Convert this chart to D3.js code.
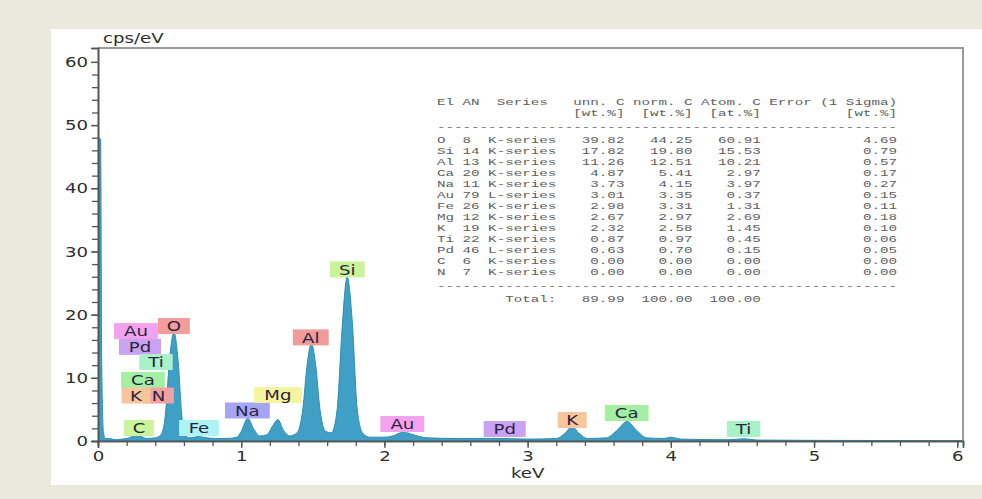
<!DOCTYPE html>
<html>
<head>
<meta charset="utf-8">
<script src="https://cdn.jsdelivr.net/npm/d3@7"></script>
<style>
  html, body { margin: 0; padding: 0; background: #ebe8de; }
  svg { display: block; }
  .tbl text { font-family: "Liberation Mono", "DejaVu Sans Mono", monospace; font-size: 9.7px; fill: #5e5e5e; white-space: pre; }
</style>
</head>
<body>
<script>
// EDS spectrum, cps/eV vs keV

// spectrum points [keV, cps/eV]
var specKeV = [0, 0.018, 0.026, 0.038, 0.05, 0.08, 0.12, 0.17, 0.22, 0.255, 0.28, 0.305, 0.34, 0.4, 0.44, 0.47, 0.5, 0.53, 0.56, 0.585, 0.61, 0.64, 0.7, 0.76, 0.82, 0.9, 0.97, 1.0, 1.045, 1.09, 1.13, 1.18, 1.22, 1.256, 1.295, 1.34, 1.39, 1.43, 1.46, 1.49, 1.52, 1.55, 1.59, 1.63, 1.67, 1.705, 1.74, 1.775, 1.81, 1.85, 1.9, 2.0, 2.06, 2.13, 2.2, 2.3, 2.5, 2.8, 3.0, 3.2, 3.26, 3.31, 3.36, 3.42, 3.55, 3.62, 3.695, 3.76, 3.83, 3.95, 4.0, 4.07, 4.4, 4.51, 4.6, 5.0, 6.04];
var specCps = [48, 47.8, 12, 1.5, 0.4, 0.4, 0.2, 0.3, 0.5, 0.9, 1.1, 0.7, 0.4, 0.5, 1.0, 4, 13, 17.2, 12.5, 4, 1.0, 0.5, 0.7, 0.5, 0.4, 0.4, 0.6, 1.5, 3.6, 1.8, 0.8, 1.0, 2.4, 3.4, 1.7, 0.8, 1.3, 5, 12, 15.4, 12, 5, 1.5, 1.3, 5, 18, 26, 19, 5, 1.2, 0.6, 0.6, 0.8, 1.4, 1.0, 0.5, 0.4, 0.4, 0.3, 0.4, 1.2, 2.3, 1.2, 0.4, 0.5, 1.6, 3.1, 1.7, 0.5, 0.4, 0.6, 0.3, 0.2, 0.35, 0.15, 0.1, 0.05];

// element labels: name, keV and cps of the label centre
var labelEls = ["Au", "O", "Pd", "Ti", "Ca", "N", "K", "C", "Fe", "Na", "Mg", "Al", "Si", "Au", "Pd", "K", "Ca", "Ti"];
var labelKeV = [0.265, 0.530, 0.293, 0.405, 0.314, 0.422, 0.265, 0.286, 0.705, 1.043, 1.256, 1.486, 1.741, 2.125, 2.84, 3.311, 3.692, 4.508];
var labelCps = [17.4, 18.2, 14.9, 12.5, 9.66, 7.2, 7.2, 2.06, 2.06, 4.83, 7.28, 16.4, 27.15, 2.69, 1.9, 3.32, 4.43, 1.9];

// quantification table
var tEl = ["O", "Si", "Al", "Ca", "Na", "Au", "Fe", "Mg", "K", "Ti", "Pd", "C", "N"];
var tAN = [8, 14, 13, 20, 11, 79, 26, 12, 19, 22, 46, 6, 7];
var tSeries = ["K-series", "K-series", "K-series", "K-series", "K-series", "L-series", "K-series", "K-series", "K-series", "K-series", "L-series", "K-series", "K-series"];
var tUnn = [39.82, 17.82, 11.26, 4.87, 3.73, 3.01, 2.98, 2.67, 2.32, 0.87, 0.63, 0.00, 0.00];
var tNorm = [44.25, 19.80, 12.51, 5.41, 4.15, 3.35, 3.31, 2.97, 2.58, 0.97, 0.70, 0.00, 0.00];
var tAtom = [60.91, 15.53, 10.21, 2.97, 3.97, 0.37, 1.31, 2.69, 1.45, 0.45, 0.15, 0.00, 0.00];
var tErr = [4.69, 0.79, 0.57, 0.17, 0.27, 0.15, 0.11, 0.18, 0.10, 0.06, 0.05, 0.00, 0.00];
var tTotal = [89.99, 100.00, 100.00];

var xTicks = [0, 1, 2, 3, 4, 5, 6];
var yTicks = [0, 10, 20, 30, 40, 50, 60];

var labelColor = {
  Au: "#f3a3ee", O: "#f39c9c", Pd: "#c9a2f3", Ti: "#a8f2c9", Ca: "#a4f0a2",
  K: "#f8c59d", N: "#f2a0a0", C: "#cbf59b", Fe: "#acf4f4", Na: "#a5a5f4",
  Mg: "#f6f59f", Al: "#f29b9b", Si: "#caf49b"
};

var W = 982, H = 499;
var plot = {left: 98, right: 963, top: 48, bottom: 441};
var STRETCH = 1.25;

var x = d3.scaleLinear().domain([0, 6.04]).range([plot.left, plot.right]);
var y = d3.scaleLinear().domain([0, 62.2]).range([plot.bottom, plot.top]);

var svg = d3.select("body").append("svg")
    .attr("width", W)
    .attr("height", H);

// white panel
svg.append("rect")
    .attr("x", 51).attr("y", 29)
    .attr("width", W - 51).attr("height", 485 - 29)
    .attr("fill", "#fff");

// widen text like the source picture
function stretch(sel, k) {
  sel.each(function () {
    var len = this.getComputedTextLength();
    d3.select(this).attr("textLength", len * k).attr("lengthAdjust", "spacingAndGlyphs");
  });
}

// spectrum
svg.append("clipPath").attr("id", "clip")
  .append("rect")
    .attr("x", plot.left).attr("y", plot.top)
    .attr("width", plot.right - plot.left).attr("height", plot.bottom - plot.top);

var pts = specKeV.map(function (k, i) { return [k, specCps[i]]; });

var area = d3.area()
    .x(function (d) { return x(d[0]); })
    .y0(y(0))
    .y1(function (d) { return y(d[1]); })
    .curve(d3.curveMonotoneX);

svg.append("path")
    .datum(pts)
    .attr("clip-path", "url(#clip)")
    .attr("d", area)
    .attr("fill", "#3f9fc4")
    .attr("stroke", "#2e8db3")
    .attr("stroke-width", 1);

// frame: top and right in light grey
svg.append("path")
    .attr("d", "M" + plot.left + "," + plot.top + "H" + plot.right + "V" + plot.bottom)
    .attr("fill", "none")
    .attr("stroke", "#9a9a9a")
    .attr("stroke-width", 2);

// axes
var axisFont = "'DejaVu Sans', Verdana, sans-serif";

var yMinor = svg.append("g")
    .attr("transform", "translate(" + plot.left + ",0)")
    .call(d3.axisLeft(y).tickValues(d3.range(0, 62, 2)).tickSize(6).tickFormat(""));
var yAxis = svg.append("g")
    .attr("transform", "translate(" + plot.left + ",0)")
    .call(d3.axisLeft(y).tickValues(yTicks).tickSize(7).tickPadding(3).tickFormat(d3.format("d")));

var xMinor = svg.append("g")
    .attr("transform", "translate(0," + plot.bottom + ")")
    .call(d3.axisBottom(x).tickValues(d3.range(0, 6.01, 0.2)).tickSize(5).tickFormat(""));
var xAxis = svg.append("g")
    .attr("transform", "translate(0," + plot.bottom + ")")
    .call(d3.axisBottom(x).tickValues(xTicks).tickSize(7).tickPadding(3).tickFormat(d3.format("d")));

[yMinor, yAxis, xMinor, xAxis].forEach(function (g) {
  g.select(".domain").attr("stroke", "#555").attr("stroke-width", 1.6);
  g.selectAll(".tick line").attr("stroke", "#555").attr("stroke-width", 1.3);
  g.selectAll("text")
      .attr("font-family", axisFont)
      .attr("font-size", 14.5)
      .attr("fill", "#2e2e2e");
});
yAxis.selectAll(".tick text").call(stretch, STRETCH);
xAxis.selectAll(".tick text").call(stretch, STRETCH);

svg.append("text")
    .attr("x", 103).attr("y", 43)
    .attr("font-family", axisFont).attr("font-size", 14.5).attr("fill", "#2e2e2e")
    .text("cps/eV")
    .call(stretch, STRETCH);

svg.append("text")
    .attr("x", x(3)).attr("y", 478)
    .attr("text-anchor", "middle")
    .attr("font-family", axisFont).attr("font-size", 14.5).attr("fill", "#2e2e2e")
    .text("keV")
    .call(stretch, STRETCH);

// element labels
var lab = svg.append("g").selectAll("g")
    .data(labelEls.map(function (e, i) { return {el: e, k: labelKeV[i], c: labelCps[i]}; }))
  .enter().append("g")
    .attr("transform", function (d) { return "translate(" + x(d.k) + "," + y(d.c) + ")"; });

lab.append("rect").attr("class", "box");
lab.append("text")
    .attr("text-anchor", "middle")
    .attr("dy", "0.37em")
    .attr("font-family", axisFont)
    .attr("font-size", 14.5)
    .attr("fill", "#2a2440")
    .text(function (d) { return d.el; })
    .call(stretch, STRETCH);

lab.select("rect")
    .each(function (d) {
      var tw = this.parentNode.querySelector("text").getComputedTextLength() * STRETCH + 14;
      d3.select(this)
          .attr("x", -tw / 2).attr("y", -8)
          .attr("width", tw).attr("height", 16)
          .attr("fill", labelColor[d.el]);
    });

// table
var cw = (897 - 437) / 54;
var tbl = svg.append("g").attr("class", "tbl");

function f2(v, n) { return v.toFixed(2).padStart(n); }

var lines = [];
lines.push({y: 102, s: "El AN  Series   unn. C norm. C Atom. C Error (1 Sigma)"});
lines.push({y: 113, s: " ".repeat(16) + "[wt.%]  [wt.%]  [at.%]" + " ".repeat(10) + "[wt.%]"});
lines.push({y: 127, s: "-".repeat(54)});
tEl.forEach(function (e, i) {
  lines.push({
    y: 140 + i * 11,
    s: e.padEnd(3) + String(tAN[i]).padEnd(3) + tSeries[i].padEnd(8) +
       f2(tUnn[i], 8) + f2(tNorm[i], 8) + f2(tAtom[i], 8) + f2(tErr[i], 16)
  });
});
lines.push({y: 140 + tEl.length * 11 + 3, s: "-".repeat(54)});
lines.push({y: 299, s: " ".repeat(8) + "Total:" + f2(tTotal[0], 8) + f2(tTotal[1], 8) + f2(tTotal[2], 8)});

tbl.selectAll("text")
    .data(lines)
  .enter().append("text")
    .attr("xml:space", "preserve")
    .attr("x", 437)
    .attr("y", function (d) { return d.y; })
    .attr("dy", "0.35em")
    .attr("textLength", function (d) { return d.s.length * cw; })
    .attr("lengthAdjust", "spacingAndGlyphs")
    .text(function (d) { return d.s; });
</script>
</body>
</html>
